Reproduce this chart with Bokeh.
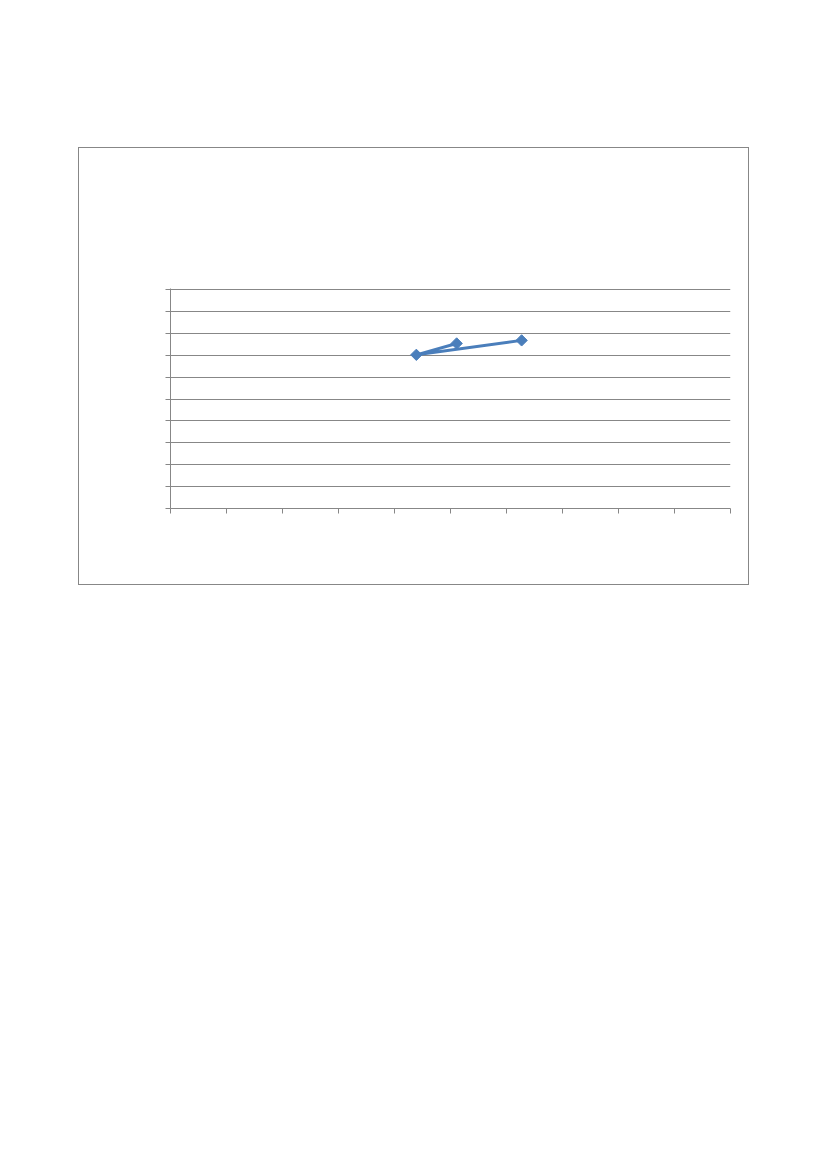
import math
from bokeh.plotting import figure
from bokeh.embed import file_html
from bokeh.resources import INLINE
from bokeh.models import FixedTicker, CustomJSTickFormatter, ColumnDataSource

# data (axes carry no labels)
x_vals = [5.11, 4.39, 6.27]
y_vals = [7.54, 7.02, 7.68]
x_ticks = list(range(0, 11))
y_ticks = list(range(0, 11))

GRAY = "#878787"
BLUE = "#4A7EBB"

src = ColumnDataSource(data=dict(x=x_vals, y=y_vals))

p = figure(width=671, height=438, output_backend="svg", toolbar_location=None,
           x_range=(0, 10), y_range=(0, 10.05),
           min_border_left=91, min_border_right=20, min_border_top=140, min_border_bottom=78)
p.margin = (147, 0, 0, 78)
p.styles = {"border": "1px solid " + GRAY, "box-sizing": "border-box"}
p.outline_line_color = None
p.background_fill_color = "white"
p.border_fill_color = "white"

p.xgrid.visible = False
p.ygrid.ticker = FixedTicker(ticks=y_ticks)
p.ygrid.grid_line_color = GRAY
p.ygrid.grid_line_width = 1

for ax, ticks in ((p.xaxis, x_ticks), (p.yaxis, y_ticks)):
    ax.ticker = FixedTicker(ticks=ticks)
    ax.formatter = CustomJSTickFormatter(code="return ''")
    ax.axis_line_color = GRAY
    ax.major_tick_line_color = GRAY
    ax.major_tick_out = 5
    ax.major_tick_in = 0
    ax.minor_tick_line_color = None
    ax.major_label_standoff = 0

p.line("x", "y", source=src, line_color=BLUE, line_width=3)
p.scatter("x", "y", source=src, marker="square", size=8, angle=math.pi / 4,
          fill_color=BLUE, line_color=BLUE)

open("out.html", "w").write(file_html(p, INLINE))
